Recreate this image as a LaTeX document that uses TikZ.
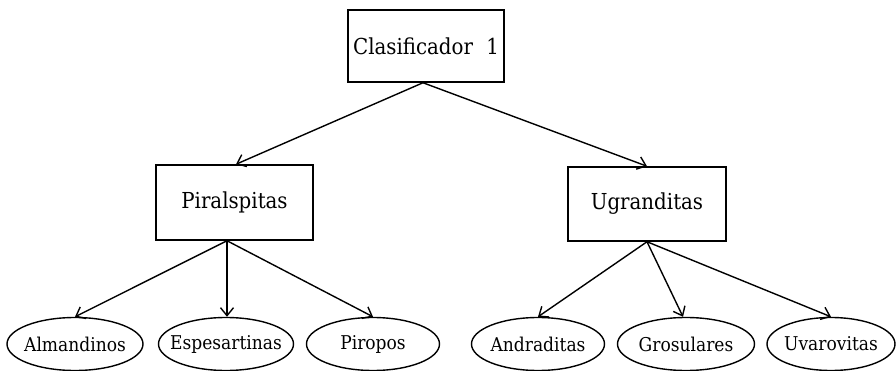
\documentclass[tikz,border=0pt]{standalone}
\usepackage{fontspec}
\setmainfont{DejaVu Serif Condensed}
\usetikzlibrary{shapes.geometric,arrows.meta}
\newcommand{\lbl}[1]{\makebox[0pt]{#1}}
\begin{document}
\begin{tikzpicture}[x=1pt,y=-1pt,
  box/.style={draw,line width=1.5pt,rectangle,inner sep=0pt,font=\fontsize{22}{26}\selectfont},
  leaf/.style={draw,line width=1.4pt,ellipse,inner sep=0pt,minimum height=53pt,font=\fontsize{19}{22}\selectfont},
  edge/.style={line width=1.4pt,-{Straight Barb[length=8pt,width=13pt]}}]
\useasboundingbox (0,0) rectangle (896,371);
\node[box,minimum width=156pt,minimum height=72pt] (c1) at (426,46) {Clasificador\hspace{0.6em}1};
\node[box,minimum width=157pt,minimum height=75pt] (pi) at (234.5,202.5) {Piralspitas};
\node[box,minimum width=158pt,minimum height=74pt] (ug) at (647,204) {Ugranditas};
\node[leaf,minimum width=136pt] (al) at (75,344) {\lbl{Almandinos}};
\node[leaf,minimum width=135pt] (es) at (226,344) {\lbl{Espesartinas}};
\node[leaf,minimum width=133pt] (pr) at (373,344) {\lbl{Piropos}};
\node[leaf,minimum width=133pt] (an) at (538,344) {\lbl{Andraditas}};
\node[leaf,minimum width=137pt] (gr) at (686,344) {\lbl{Grosulares}};
\node[leaf,minimum width=128pt] (uv) at (831,344) {\lbl{Uvarovitas}};
\coordinate (c1s) at ([xshift=-3pt]c1.south);
\coordinate (pis) at ([xshift=-7.5pt]pi.south);
\draw[edge] (c1s) -- ([xshift=1.5pt]pi.north);
\draw[edge] (c1s) -- (ug.north);
\draw[edge] (pis) -- (al.north);
\draw[edge] (pis) -- ([xshift=1pt]es.north);
\draw[edge] (pis) -- (pr.north);
\draw[edge] (ug.south) -- (an.north);
\draw[edge] (ug.south) -- ([xshift=-3pt]gr.north);
\draw[edge] (ug.south) -- (uv.north);
\end{tikzpicture}
\end{document}
